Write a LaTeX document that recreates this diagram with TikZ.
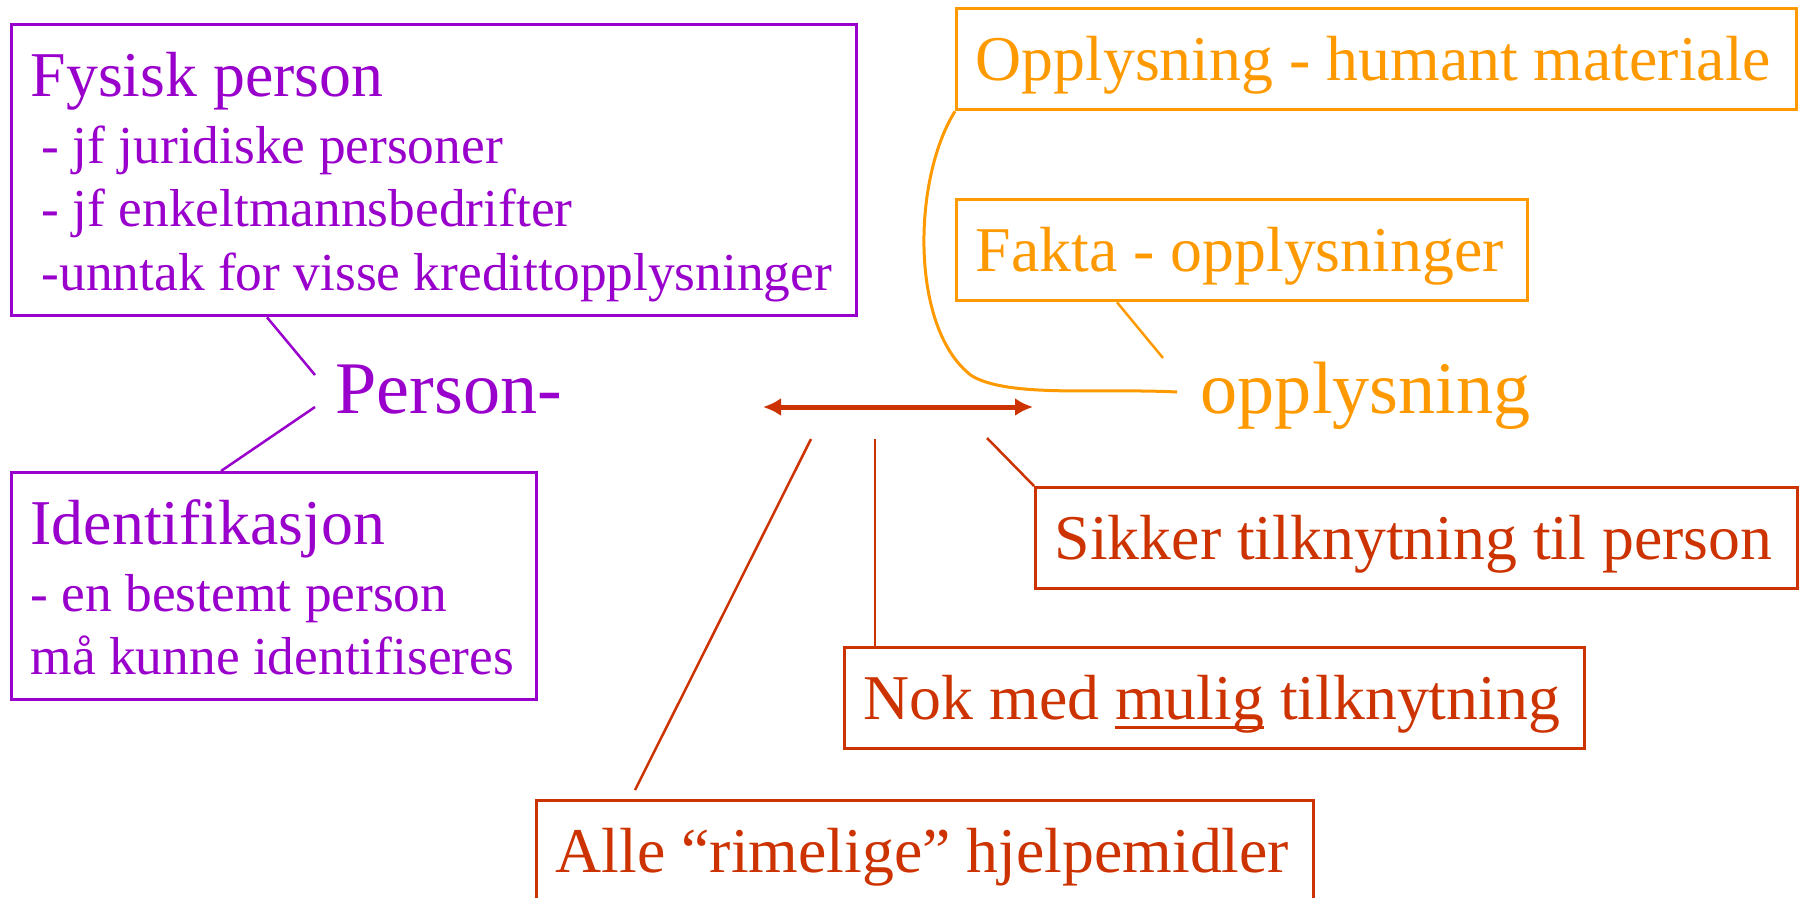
\documentclass[tikz,border=0pt]{standalone}
\usepackage{fontspec}
\setmainfont{Liberation Serif}
\usepackage{tikz}
\usetikzlibrary{arrows.meta}

\definecolor{lilla}{RGB}{153,0,204}
\definecolor{oransje}{RGB}{255,153,0}
\definecolor{rod}{RGB}{204,51,0}

\newcommand{\liten}{\fontsize{5.34mm}{6.35mm}\selectfont}
\newcommand{\middels}{\fontsize{6.38mm}{7.6mm}\selectfont}
\newcommand{\stor}{\fontsize{7.42mm}{8.8mm}\selectfont}
\newcommand{\understrek}[1]{\setbox0\hbox{#1}\rlap{\rule[-1.0mm]{\wd0}{0.3mm}}#1}

\begin{document}
\begin{tikzpicture}[
        boks/.style={draw, line width=0.33mm, anchor=north west, inner xsep=1.9mm, inner ysep=0, align=flush left},
        enkel/.style={boks, font=\middels, text height=7.15mm, text depth=2.95mm},
        strek/.style={line width=0.25mm}]
        \useasboundingbox (0, 0) rectangle (18.08, -8.97);

        \node[boks, lilla, font=\liten, text width=80.7mm, text height=7.2mm, text depth=21.9mm] (fysisk) at (0.10, -0.23)
                {\mbox{\middels Fysisk person}\\[0.3mm]
                \mbox{\hspace*{1.1mm}- jf juridiske personer}\\
                \mbox{\hspace*{1.1mm}- jf enkeltmannsbedrifter}\\
                \mbox{\hspace*{1.1mm}-unntak for visse kredittopplysninger}};
        \node[boks, lilla, font=\liten, text width=48.7mm, text height=7.2mm, text depth=15.5mm] (ident) at (0.10, -4.71)
                {\mbox{\middels Identifikasjon}\\[0.3mm]
                \mbox{- en bestemt person}\\
                \mbox{må kunne identifiseres}};
        \node[lilla, font=\stor, anchor=base west, inner sep=0] (person) at (3.35, -4.13) {Person-};
        \coordinate (p1) at (3.15, -3.75);
        \coordinate (p2) at (3.15, -4.07);
        \draw[strek, lilla] ([xshift=25.7mm]fysisk.south west) to (p1);
        \draw[strek, lilla] (p2) to ([xshift=21.1mm]ident.north west);

        \node[enkel, oransje, text width=80.2mm] (opp) at (9.55, -0.07) {\mbox{Opplysning - humant materiale}};
        \node[enkel, oransje, text width=53.3mm] (fakta) at (9.55, -1.98) {\mbox{Fakta - opplysninger}};
        \node[oransje, font=\stor, anchor=base west, inner sep=0] (opplysning) at (12.00, -4.13) {opplysning};
        \coordinate (o1) at (11.63, -3.58);
        \coordinate (o2) at (11.77, -3.92);
        \draw[strek, oransje] ([xshift=16.2mm]fakta.south west) to (o1);
        \draw[line width=0.3mm, oransje] (opp.south west) .. controls (9.12, -1.8) and (9.1, -3.3) .. (9.72, -3.76)
                .. controls (10.1, -3.98) and (11.0, -3.88) .. (o2);

        \coordinate (venstre) at (7.63, -4.07);
        \coordinate (hoyre) at (10.33, -4.07);
        \draw[rod, line width=0.5mm, {Latex[length=1.8mm,width=1.8mm]}-{Latex[length=1.8mm,width=1.8mm]}] (venstre) to (hoyre);

        \node[enkel, rod, text width=72.4mm] (sikker) at (10.34, -4.86) {\mbox{Sikker tilknytning til person}};
        \node[enkel, rod, text width=70.2mm] (nok) at (8.43, -6.46) {\mbox{Nok med \understrek{mulig} tilknytning}};
        \node[enkel, rod, text width=73.9mm] (alle) at (5.35, -7.99) {\mbox{Alle “rimelige” hjelpemidler}};
        \coordinate (r1) at (8.11, -4.39);
        \coordinate (r2) at (8.75, -4.39);
        \coordinate (r3) at (9.87, -4.38);
        \draw[strek, rod] (r1) to ([xshift=10mm, yshift=0.9mm]alle.north west);
        \draw[strek, rod] (r2) to (r2 |- nok.north);
        \draw[strek, rod] (r3) to (sikker.north west);
\end{tikzpicture}
\end{document}
